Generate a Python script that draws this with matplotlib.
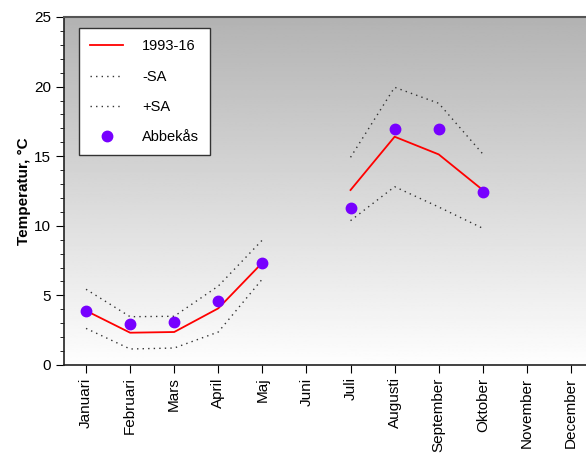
import matplotlib
matplotlib.use("Agg")
import matplotlib.pyplot as plt
import numpy as np

plt.rcParams['font.family'] = ['Liberation Sans', 'DejaVu Sans']

months = ['Januari', 'Februari', 'Mars', 'April', 'Maj', 'Juni', 'Juli',
          'Augusti', 'September', 'Oktober', 'November', 'December']
nan = np.nan
mean_9316 = [3.9, 2.32, 2.37, 4.07, 7.35, nan, 12.57, 16.4, 15.13, 12.57, nan, nan]
minus_sa = [2.63, 1.15, 1.22, 2.37, 6.18, nan, 10.37, 12.81, 11.35, 9.82, nan, nan]
plus_sa = [5.44, 3.47, 3.5, 5.67, 8.98, nan, 14.92, 19.95, 18.8, 15.16, nan, nan]
abbekas = [3.88, 2.97, 3.11, 4.57, 7.35, nan, 11.3, 16.95, 16.98, 12.45, nan, nan]

x = np.arange(len(months))

fig = plt.figure(figsize=(5.86, 4.57), dpi=100)
ax = fig.add_axes([64/586, 92/457, 529/586, 348/457])

# grey (top) to white (bottom) background gradient
grad = np.linspace(0.70, 0.995, 256).reshape(-1, 1)
ax.imshow(grad, cmap='gray', vmin=0, vmax=1, aspect='auto', origin='upper',
          extent=[0, 1, 0, 1], transform=ax.transAxes, zorder=0)

ax.plot(x, mean_9316, color='red', lw=1.3, label='1993-16', zorder=3)
ax.plot(x, minus_sa, color='#333333', lw=1, ls=(0, (1, 3)), label='-SA', zorder=3)
ax.plot(x, plus_sa, color='#333333', lw=1, ls=(0, (1, 3)), label='+SA', zorder=3)
ax.plot(x, abbekas, 'o', color='#7700ff', ms=7.5, ls='none', label='Abbekås', zorder=4)

ax.set_xlim(-0.5, 11.5)
ax.set_ylim(0, 25)
ax.set_xticks(x)
ax.set_xticklabels(months, rotation=90, fontsize=11)
ax.set_yticks([0, 5, 10, 15, 20, 25])
ax.set_yticks(np.arange(0, 26, 1), minor=True)
ax.tick_params(axis='y', which='major', length=6, labelsize=11, direction='out')
ax.tick_params(axis='y', which='minor', length=3, direction='out')
ax.tick_params(axis='x', length=6, direction='out', pad=3)
ax.set_ylabel('Temperatur, °C', fontsize=11, fontweight='bold', labelpad=2)

for side in ['left', 'bottom']:
    ax.spines[side].set_color('#222222')
    ax.spines[side].set_linewidth(1.2)
ax.spines['top'].set_color('#555555')
ax.spines['top'].set_linewidth(1.5)
ax.spines['right'].set_visible(False)

leg = ax.legend(loc='upper left', bbox_to_anchor=(0.028, 0.967), fontsize=10.5,
                frameon=True, fancybox=False, edgecolor='#333333', framealpha=1,
                handlelength=2.3, handletextpad=1.3, labelspacing=1.12,
                borderpad=0.75, borderaxespad=0)
leg.get_frame().set_linewidth(1)
leg._legend_box.align = 'left'

fig.savefig('out.png', dpi=100)
